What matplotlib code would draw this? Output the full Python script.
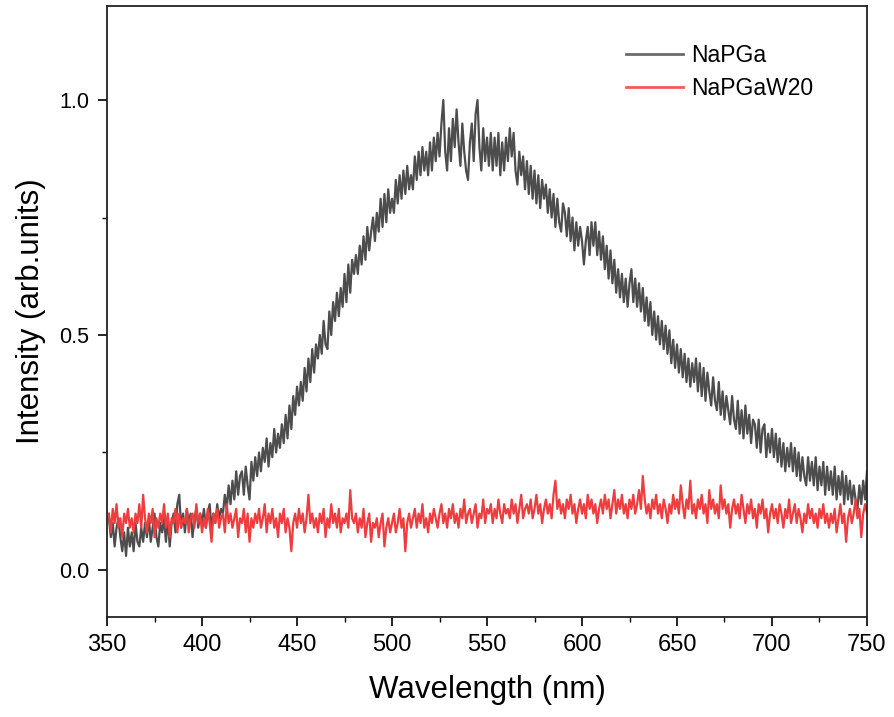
import numpy as np
import matplotlib
matplotlib.use("Agg")
import matplotlib.pyplot as plt
from matplotlib.ticker import MultipleLocator

plt.rcParams['font.family'] = ['Liberation Sans', 'DejaVu Sans']

# wavelength grid (nm), 1 nm step
wavelength = np.arange(351, 751, 1)

napga = [
    0.11, 0.07, 0.10, 0.05, 0.09, 0.11, 0.07, 0.04, 0.08, 0.03,
    0.09, 0.05, 0.08, 0.04, 0.10, 0.06, 0.05, 0.09, 0.06, 0.10,
    0.07, 0.11, 0.06, 0.09, 0.12, 0.07, 0.05, 0.10, 0.08, 0.11,
    0.06, 0.11, 0.05, 0.10, 0.12, 0.08, 0.14, 0.16, 0.09, 0.12,
    0.08, 0.13, 0.10, 0.12, 0.07, 0.11, 0.13, 0.09, 0.12, 0.10,
    0.13, 0.09, 0.12, 0.14, 0.09, 0.12, 0.10, 0.14, 0.11, 0.13,
    0.12, 0.16, 0.13, 0.18, 0.14, 0.19, 0.15, 0.21, 0.16, 0.20,
    0.21, 0.16, 0.22, 0.18, 0.15, 0.23, 0.19, 0.24, 0.20, 0.25,
    0.21, 0.26, 0.23, 0.28, 0.22, 0.27, 0.24, 0.30, 0.25, 0.29,
    0.26, 0.31, 0.27, 0.33, 0.28, 0.35, 0.30, 0.37, 0.33, 0.39,
    0.35, 0.40, 0.36, 0.43, 0.38, 0.45, 0.40, 0.47, 0.42, 0.48,
    0.45, 0.50, 0.46, 0.53, 0.48, 0.47, 0.55, 0.50, 0.57, 0.53,
    0.59, 0.54, 0.60, 0.56, 0.63, 0.57, 0.65, 0.59, 0.66, 0.63,
    0.67, 0.63, 0.69, 0.65, 0.71, 0.66, 0.73, 0.68, 0.72, 0.75,
    0.70, 0.76, 0.72, 0.79, 0.73, 0.80, 0.74, 0.81, 0.76, 0.79,
    0.76, 0.83, 0.78, 0.84, 0.79, 0.85, 0.80, 0.86, 0.81, 0.84,
    0.81, 0.88, 0.83, 0.89, 0.84, 0.90, 0.85, 0.89, 0.84, 0.91,
    0.85, 0.92, 0.87, 0.93, 0.88, 0.95, 1.00, 0.89, 0.85, 0.94,
    0.87, 0.96, 0.90, 0.98, 0.91, 0.86, 0.95, 0.89, 0.85, 0.83,
    0.91, 0.95, 0.87, 0.97, 1.00, 0.90, 0.85, 0.94, 0.87, 0.92,
    0.86, 0.93, 0.85, 0.92, 0.86, 0.93, 0.84, 0.91, 0.85, 0.92,
    0.87, 0.94, 0.88, 0.93, 0.85, 0.82, 0.89, 0.84, 0.88, 0.81,
    0.87, 0.80, 0.86, 0.79, 0.85, 0.78, 0.84, 0.77, 0.83, 0.79,
    0.82, 0.76, 0.81, 0.75, 0.80, 0.73, 0.79, 0.74, 0.72, 0.78,
    0.76, 0.71, 0.77, 0.70, 0.75, 0.68, 0.74, 0.69, 0.73, 0.70,
    0.65, 0.70, 0.73, 0.67, 0.74, 0.69, 0.74, 0.67, 0.72, 0.66,
    0.71, 0.64, 0.69, 0.62, 0.68, 0.61, 0.66, 0.59, 0.64, 0.58,
    0.63, 0.57, 0.62, 0.56, 0.61, 0.64, 0.57, 0.62, 0.56, 0.61,
    0.55, 0.60, 0.53, 0.58, 0.52, 0.57, 0.50, 0.55, 0.49, 0.54,
    0.48, 0.53, 0.47, 0.52, 0.46, 0.51, 0.44, 0.49, 0.43, 0.48,
    0.42, 0.47, 0.41, 0.46, 0.40, 0.45, 0.39, 0.44, 0.40, 0.45,
    0.38, 0.44, 0.37, 0.43, 0.36, 0.42, 0.38, 0.35, 0.41, 0.36,
    0.34, 0.40, 0.33, 0.38, 0.32, 0.37, 0.34, 0.31, 0.37, 0.32,
    0.30, 0.36, 0.29, 0.34, 0.28, 0.35, 0.29, 0.33, 0.27, 0.32,
    0.31, 0.26, 0.32, 0.25, 0.30, 0.31, 0.24, 0.29, 0.25, 0.30,
    0.24, 0.29, 0.23, 0.28, 0.22, 0.27, 0.21, 0.26, 0.22, 0.27,
    0.21, 0.26, 0.20, 0.25, 0.19, 0.24, 0.20, 0.18, 0.24, 0.19,
    0.23, 0.18, 0.24, 0.17, 0.22, 0.18, 0.23, 0.16, 0.22, 0.17,
    0.21, 0.16, 0.22, 0.15, 0.20, 0.16, 0.21, 0.14, 0.20, 0.15,
    0.19, 0.14, 0.18, 0.15, 0.13, 0.18, 0.14, 0.19, 0.15, 0.21,
]

napgaw20 = [
    0.12, 0.08, 0.13, 0.10, 0.14, 0.09, 0.11, 0.07, 0.12, 0.10,
    0.13, 0.09, 0.11, 0.08, 0.12, 0.10, 0.14, 0.09, 0.16, 0.11,
    0.08, 0.12, 0.10, 0.13, 0.07, 0.11, 0.09, 0.12, 0.10, 0.14,
    0.09, 0.12, 0.07, 0.11, 0.10, 0.13, 0.08, 0.12, 0.09, 0.11,
    0.10, 0.13, 0.08, 0.11, 0.12, 0.09, 0.14, 0.10, 0.12, 0.08,
    0.11, 0.09, 0.13, 0.10, 0.06, 0.12, 0.10, 0.13, 0.09, 0.11,
    0.12, 0.08, 0.14, 0.10, 0.12, 0.09, 0.11, 0.13, 0.07, 0.11,
    0.10, 0.13, 0.08, 0.12, 0.06, 0.11, 0.09, 0.12, 0.10, 0.13,
    0.09, 0.11, 0.14, 0.08, 0.12, 0.10, 0.13, 0.09, 0.11, 0.07,
    0.12, 0.10, 0.13, 0.08, 0.11, 0.09, 0.04, 0.10, 0.12, 0.09,
    0.13, 0.10, 0.12, 0.08, 0.11, 0.16, 0.10, 0.12, 0.09, 0.11,
    0.08, 0.12, 0.10, 0.13, 0.07, 0.11, 0.09, 0.14, 0.10, 0.12,
    0.09, 0.13, 0.08, 0.11, 0.10, 0.12, 0.09, 0.17, 0.11, 0.10,
    0.12, 0.08, 0.11, 0.09, 0.13, 0.07, 0.10, 0.12, 0.06, 0.10,
    0.09, 0.11, 0.07, 0.10, 0.12, 0.05, 0.09, 0.11, 0.08, 0.10,
    0.12, 0.08, 0.10, 0.13, 0.09, 0.11, 0.04, 0.10, 0.12, 0.09,
    0.11, 0.13, 0.09, 0.12, 0.10, 0.14, 0.09, 0.11, 0.08, 0.12,
    0.10, 0.13, 0.11, 0.09, 0.12, 0.14, 0.10, 0.12, 0.09, 0.13,
    0.11, 0.14, 0.10, 0.12, 0.09, 0.13, 0.11, 0.15, 0.10, 0.12,
    0.13, 0.10, 0.12, 0.14, 0.09, 0.12, 0.11, 0.15, 0.10, 0.13,
    0.12, 0.14, 0.10, 0.13, 0.11, 0.15, 0.12, 0.10, 0.14, 0.12,
    0.13, 0.11, 0.15, 0.12, 0.14, 0.10, 0.13, 0.16, 0.11, 0.13,
    0.14, 0.12, 0.15, 0.11, 0.13, 0.16, 0.12, 0.14, 0.10, 0.13,
    0.15, 0.12, 0.14, 0.11, 0.16, 0.19, 0.13, 0.15, 0.12, 0.14,
    0.11, 0.15, 0.13, 0.16, 0.12, 0.14, 0.10, 0.13, 0.15, 0.12,
    0.14, 0.11, 0.16, 0.13, 0.15, 0.12, 0.14, 0.10, 0.13, 0.15,
    0.12, 0.16, 0.13, 0.15, 0.11, 0.14, 0.17, 0.12, 0.15, 0.13,
    0.16, 0.12, 0.14, 0.11, 0.15, 0.13, 0.16, 0.12, 0.14, 0.17,
    0.13, 0.20, 0.15, 0.12, 0.14, 0.11, 0.15, 0.13, 0.16, 0.12,
    0.14, 0.11, 0.15, 0.13, 0.10, 0.14, 0.12, 0.16, 0.13, 0.15,
    0.12, 0.18, 0.14, 0.11, 0.15, 0.13, 0.19, 0.12, 0.14, 0.11,
    0.15, 0.13, 0.16, 0.12, 0.14, 0.10, 0.17, 0.13, 0.15, 0.12,
    0.14, 0.11, 0.18, 0.13, 0.15, 0.12, 0.14, 0.09, 0.13, 0.15,
    0.12, 0.14, 0.11, 0.16, 0.13, 0.10, 0.14, 0.12, 0.15, 0.11,
    0.13, 0.09, 0.14, 0.12, 0.15, 0.11, 0.13, 0.08, 0.12, 0.14,
    0.11, 0.13, 0.10, 0.14, 0.12, 0.09, 0.13, 0.11, 0.15, 0.10,
    0.12, 0.14, 0.10, 0.13, 0.11, 0.08, 0.12, 0.10, 0.14, 0.11,
    0.13, 0.10, 0.12, 0.09, 0.13, 0.11, 0.14, 0.10, 0.12, 0.09,
    0.12, 0.10, 0.13, 0.08, 0.11, 0.14, 0.10, 0.12, 0.06, 0.11,
    0.13, 0.10, 0.12, 0.15, 0.11, 0.13, 0.07, 0.12, 0.14, 0.12,
]

series_labels = ["NaPGa", "NaPGaW20"]
x_ticks = [350, 400, 450, 500, 550, 600, 650, 700, 750]
y_ticks = [0.0, 0.5, 1.0]

fig = plt.figure(figsize=(8.95, 7.17), dpi=100)
ax = fig.add_axes([0.1196, 0.1395, 0.8491, 0.8521])

ax.plot(wavelength, napga, color='#4d4d4d', lw=1.6, label=series_labels[0])
ax.plot(wavelength, napgaw20, color='#ef3d3d', lw=1.6, label=series_labels[1])

ax.set_xlim(350, 750)
ax.set_ylim(-0.1, 1.2)
ax.set_xticks(x_ticks)
ax.set_yticks(y_ticks)
ax.set_yticklabels([f"{v:.1f}" for v in y_ticks])
ax.xaxis.set_minor_locator(MultipleLocator(25))
ax.yaxis.set_minor_locator(MultipleLocator(0.25))
ax.tick_params(which='major', direction='out', length=6.5, width=1.2, top=False, right=False)
ax.tick_params(which='minor', direction='out', length=3.6, width=1.0, top=False, right=False)
ax.tick_params(axis='x', labelsize=17, pad=5.5)
ax.tick_params(axis='y', labelsize=15.5, pad=6.5)
for s in ax.spines.values():
    s.set_linewidth(1.3)
    s.set_color('#222222')

ax.set_xlabel("Wavelength (nm)", fontsize=22.5, labelpad=14)
ax.set_ylabel("Intensity (arb.units)", fontsize=22.5, labelpad=9)

leg = ax.legend(loc='upper left', bbox_to_anchor=(0.683, 0.938), frameon=False,
                fontsize=16.5, handlelength=2.48, handletextpad=0.35,
                labelspacing=0.45, borderaxespad=0, borderpad=0)
leg_colors = ['#6a6a6a', '#f25a5a']
for line, c in zip(leg.get_lines(), leg_colors):
    line.set_linewidth(2.0)
    line.set_color(c)

fig.savefig("out.png", dpi=100)
